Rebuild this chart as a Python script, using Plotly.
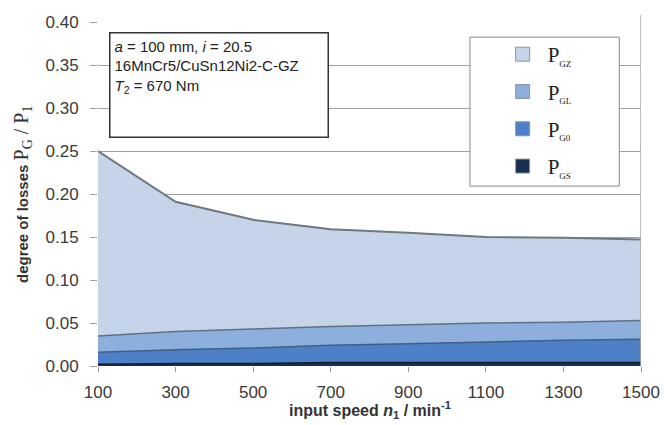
import plotly.graph_objects as go

speed = [100, 300, 500, 700, 900, 1100, 1300, 1500]
p_gs = [0.002, 0.003, 0.003, 0.004, 0.004, 0.004, 0.004, 0.004]
p_g0 = [0.014, 0.016, 0.018, 0.020, 0.022, 0.024, 0.026, 0.027]
p_gl = [0.019, 0.021, 0.022, 0.022, 0.022, 0.022, 0.021, 0.022]
p_gz = [0.215, 0.151, 0.127, 0.113, 0.107, 0.100, 0.098, 0.094]

x_ticks = [100, 300, 500, 700, 900, 1100, 1300, 1500]
y_ticks = [0.00, 0.05, 0.10, 0.15, 0.20, 0.25, 0.30, 0.35, 0.40]

series = [
    ("GS", p_gs, "#17304f", "#0d1e33", 1.5),
    ("G0", p_g0, "#4d80c6", "#3d5f8a", 1.5),
    ("GL", p_gl, "#8cafdc", "#5f7186", 1.5),
    ("GZ", p_gz, "#c5d4e9", "#6f7780", 2),
]

fig = go.Figure()
for name, vals, fc, lc, lw in series:
    fig.add_trace(go.Scatter(
        x=speed, y=vals, stackgroup="one", mode="lines",
        fillcolor=fc, line=dict(color=lc, width=lw),
        showlegend=False, hoverinfo="skip"))

# legend entries (top to bottom: GZ, GL, G0, GS)
for name, vals, fc, lc, lw in reversed(series):
    fig.add_trace(go.Scatter(
        x=[None], y=[None], mode="markers",
        marker=dict(symbol="square", size=14, color=fc, line=dict(color="#8a96a4", width=1)),
        name="P<sub><span style='font-size:9px'>%s</span></sub>" % name,
        legendgroup=name, showlegend=True))

fig.update_layout(
    width=672, height=425,
    margin=dict(l=98, r=22, t=22, b=59),
    plot_bgcolor="white", paper_bgcolor="white",
    font=dict(family="Liberation Sans, Arial, sans-serif", color="#3a3a3a"),
    xaxis=dict(range=[100, 1500], tickvals=x_ticks, ticktext=[str(v) for v in x_ticks],
               showgrid=False, zeroline=False, showline=False,
               ticks="outside", ticklen=5, tickcolor="#999",
               tickfont=dict(size=17, color="#3a3a3a"), ticklabelstandoff=6),
    yaxis=dict(range=[0, 0.40], tickvals=y_ticks, ticktext=["%.2f" % v for v in y_ticks],
               showgrid=True, gridcolor="#a0a0a0", gridwidth=1, zeroline=False, showline=False,
               ticks="outside", ticklen=7, tickcolor="#a0a0a0",
               tickfont=dict(size=17, color="#3a3a3a"), ticklabelstandoff=8),
    legend=dict(x=0.736, y=0.965, xanchor="left", yanchor="top",
                bgcolor="rgba(0,0,0,0)", borderwidth=0,
                font=dict(family="Liberation Serif, Times New Roman, serif", size=21, color="#222"),
                traceorder="grouped", tracegroupgap=7, itemwidth=40),
    shapes=[
        dict(type="line", xref="x", yref="paper", x0=1500, x1=1500, y0=0, y1=1.02,
             line=dict(color="#a8a8a8", width=1.5)),
        dict(type="rect", xref="paper", yref="paper", x0=0.685, x1=0.960, y0=0.523, y1=0.956,
             fillcolor="white", line=dict(color="#888", width=1), layer="above"),
    ],
    annotations=[
        dict(xref="paper", yref="paper", x=0.02, y=0.971, xanchor="left", yanchor="top",
             text="<i>a</i> = 100 mm, <i>i</i> = 20.5<br>16MnCr5/CuSn12Ni2-C-GZ<br><i>T</i><sub>2</sub> = 670 Nm",
             showarrow=False, align="left", valign="top", width=209, height=95,
             bgcolor="white", bordercolor="#333", borderwidth=1.5, borderpad=4,
             font=dict(size=15, color="#222")),
        dict(xref="paper", yref="paper", x=0, y=0.5, xanchor="center", yanchor="middle",
             xshift=-76, textangle=-90, showarrow=False,
             text="<b>degree of losses</b> <span style='font-family:Liberation Serif, serif; font-size:20px'>P<sub>G</sub> / P<sub>1</sub></span>",
             font=dict(size=15, color="#333")),
        dict(xref="paper", yref="paper", x=0.5, y=0, xanchor="center", yanchor="middle",
             yshift=-44, showarrow=False,
             text="<b>input speed <i>n</i><sub>1</sub> / min<sup>-1</sup></b>",
             font=dict(size=16, color="#333")),
    ],
)

fig.write_html("out.html")
